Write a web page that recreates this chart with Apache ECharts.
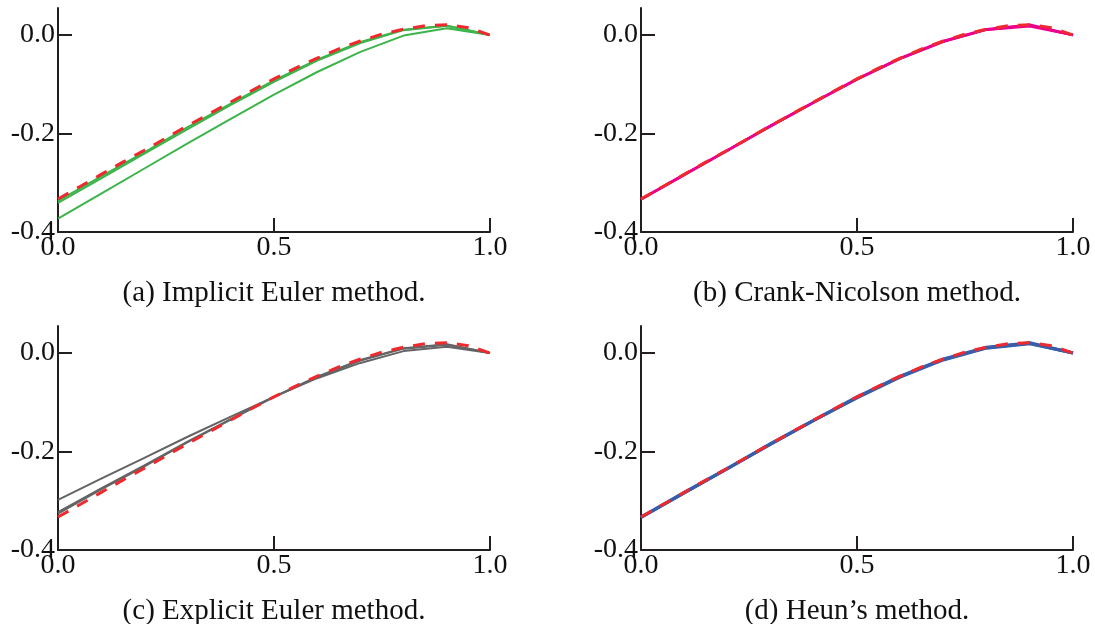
<!DOCTYPE html>
<html>
<head>
<meta charset="utf-8">
<script src="https://cdn.jsdelivr.net/npm/echarts@6/dist/echarts.min.js"></script>
<style>
  html, body { margin: 0; padding: 0; background: #ffffff; }
  #chart { width: 1095px; height: 624px; }
</style>
</head>
<body>
<div id="chart"></div>
<script>
// Grid points of the numerical schemes
const xs = [0.0, 0.1, 0.2, 0.3, 0.4, 0.5, 0.6, 0.7, 0.8, 0.9, 1.0];
// Finer sampling for the reference solution
const xsExact = [0.0, 0.05, 0.1, 0.15, 0.2, 0.25, 0.3, 0.35, 0.4, 0.45, 0.5,
                 0.55, 0.6, 0.65, 0.7, 0.75, 0.8, 0.85, 0.9, 0.95, 1.0];
const exact = [-0.333, -0.308, -0.283, -0.258, -0.234, -0.209, -0.184, -0.160, -0.136, -0.112, -0.089,
               -0.067, -0.047, -0.028, -0.012, 0.002, 0.012, 0.019, 0.021, 0.015, 0.0];

// (a) implicit Euler, three step sizes
const implicitEuler1 = [-0.337, -0.287, -0.238, -0.187, -0.139, -0.092, -0.050, -0.014, 0.011, 0.019, 0.0];
const implicitEuler2 = [-0.341, -0.291, -0.241, -0.191, -0.142, -0.095, -0.052, -0.016, 0.010, 0.019, 0.0];
const implicitEuler3 = [-0.373, -0.322, -0.271, -0.220, -0.170, -0.121, -0.075, -0.034, -0.001, 0.014, 0.0];

// (b) Crank-Nicolson
const crankNicolson1 = [-0.333, -0.283, -0.234, -0.184, -0.136, -0.089, -0.047, -0.012, 0.012, 0.021, 0.0];
const crankNicolson2 = [-0.334, -0.284, -0.234, -0.185, -0.137, -0.090, -0.048, -0.013, 0.011, 0.020, 0.0];
const crankNicolson3 = [-0.334, -0.284, -0.235, -0.185, -0.137, -0.090, -0.048, -0.013, 0.011, 0.018, 0.0];

// (c) explicit Euler
const explicitEuler1 = [-0.298, -0.255, -0.213, -0.170, -0.129, -0.089, -0.051, -0.020, 0.004, 0.013, 0.0];
const explicitEuler2 = [-0.323, -0.275, -0.228, -0.180, -0.134, -0.089, -0.049, -0.015, 0.009, 0.017, 0.0];
const explicitEuler3 = [-0.326, -0.277, -0.230, -0.181, -0.135, -0.089, -0.048, -0.014, 0.010, 0.018, 0.0];

// (d) Heun
const heun1 = [-0.333, -0.283, -0.234, -0.184, -0.136, -0.089, -0.047, -0.012, 0.012, 0.021, 0.0];
const heun2 = [-0.334, -0.284, -0.235, -0.185, -0.137, -0.090, -0.048, -0.013, 0.011, 0.020, 0.0];
const heun3 = [-0.334, -0.284, -0.235, -0.185, -0.137, -0.091, -0.049, -0.014, 0.010, 0.019, 0.0];

const xTicks = [0.0, 0.5, 1.0];
const yTicks = [-0.4, -0.2, 0.0];
const captions = ['(a) Implicit Euler method.', '(b) Crank-Nicolson method.',
                  '(c) Explicit Euler method.', '(d) Heun\u2019s method.'];

const FONT = 'Liberation Serif';
const AXIS_COLOR = '#231f20';

const panels = [
  { left: 58,  top: 8,   runs: [implicitEuler1, implicitEuler2, implicitEuler3], color: '#3cb44a', width: 2 },
  { left: 641, top: 8,   runs: [crankNicolson1, crankNicolson2, crankNicolson3], color: '#ec008c', width: 2.5 },
  { left: 58,  top: 326, runs: [explicitEuler1, explicitEuler2, explicitEuler3], color: '#636466', width: 2 },
  { left: 641, top: 326, runs: [heun1, heun2, heun3], color: '#3a5daa', width: 3 }
];

const pair = (x, y) => x.map((v, i) => [v, y[i]]);

const grid = [], xAxis = [], yAxis = [], series = [], graphic = [];
panels.forEach((p, k) => {
  grid.push({ left: p.left, top: p.top, width: 432, height: 224 });
  xAxis.push({
    type: 'value', gridIndex: k, min: 0, max: 1,
    axisLine: { show: true, onZero: false, lineStyle: { color: AXIS_COLOR, width: 2 } },
    axisTick: { show: true, inside: true, length: 14, customValues: xTicks, lineStyle: { color: AXIS_COLOR, width: 2 } },
    axisLabel: { customValues: xTicks, formatter: v => v.toFixed(1), margin: 2,
                 fontFamily: FONT, fontSize: 28, color: '#111' },
    splitLine: { show: false }
  });
  yAxis.push({
    type: 'value', gridIndex: k, min: -0.4, max: 0.055,
    axisLine: { show: true, onZero: false, lineStyle: { color: AXIS_COLOR, width: 2 } },
    axisTick: { show: true, inside: true, length: 14, customValues: yTicks, lineStyle: { color: AXIS_COLOR, width: 2 } },
    axisLabel: { customValues: yTicks, formatter: v => v.toFixed(1), margin: 3,
                 fontFamily: FONT, fontSize: 28, color: '#111' },
    splitLine: { show: false }
  });
  p.runs.forEach(run => {
    series.push({
      type: 'line', xAxisIndex: k, yAxisIndex: k, data: pair(xs, run),
      showSymbol: false, silent: true, animation: false,
      lineStyle: { color: p.color, width: p.width }
    });
  });
  series.push({
    type: 'line', xAxisIndex: k, yAxisIndex: k, data: pair(xsExact, exact),
    showSymbol: false, silent: true, animation: false, z: 5,
    lineStyle: { color: '#ee2a2e', width: 3, type: [12, 10] }
  });
  graphic.push({
    type: 'text', x: p.left + 216, y: p.top + 285,
    style: { text: captions[k], fill: '#111', font: '29px "' + FONT + '"',
             textAlign: 'center', textVerticalAlign: 'middle' }
  });
});

const chart = echarts.init(document.getElementById('chart'), null, { renderer: 'canvas' });
chart.setOption({
  backgroundColor: '#ffffff',
  animation: false,
  grid, xAxis, yAxis, series, graphic
});
</script>
</body>
</html>
